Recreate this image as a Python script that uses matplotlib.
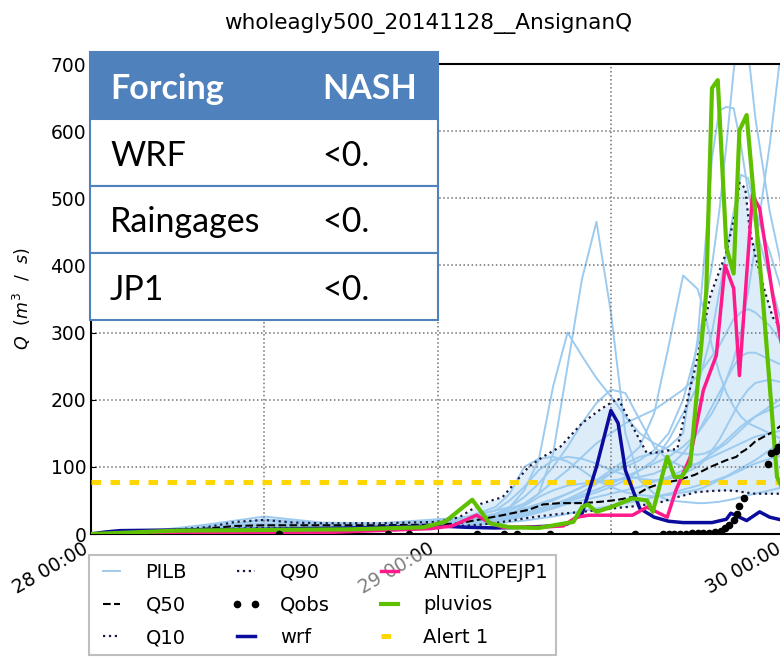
import datetime as dt

import matplotlib
matplotlib.use('Agg')
import matplotlib.pyplot as plt
import matplotlib.dates as mdates
from matplotlib.patches import Rectangle

# run start, everything below is in hours after it
t0 = dt.datetime(2014, 11, 28, 0, 0)

# ensemble members (PILB), common time axis
pilb_t = [0, 4, 8, 12, 16, 20, 24, 26, 28, 29, 30, 31, 32, 33, 34, 35, 36, 37, 38, 39,
          40, 41, 42, 42.5, 43, 43.5, 44, 44.5, 45, 45.5, 46, 47, 48, 49]
pilb = [
    [0, 3, 9, 13, 12, 13, 15, 22, 30, 38, 45, 60, 120, 250, 380, 465, 330, 150, 80, 60,
     50, 48, 46, 46, 47, 48, 50, 52, 55, 58, 60, 65, 70, 72],
    [0, 3, 10, 15, 14, 14, 17, 25, 35, 40, 65, 110, 220, 300, 265, 232, 205, 175, 150, 135,
     125, 120, 118, 120, 125, 130, 140, 150, 160, 168, 175, 185, 195, 205],
    [0, 4, 12, 20, 15, 15, 18, 22, 28, 32, 38, 45, 52, 60, 70, 80, 90, 100, 110, 125,
     150, 200, 280, 340, 400, 480, 580, 690, 770, 720, 620, 480, 380, 320],
    [0, 3, 9, 12, 12, 13, 15, 18, 22, 26, 30, 36, 44, 52, 62, 75, 90, 105, 115, 120,
     130, 150, 290, 420, 560, 631, 636, 634, 580, 510, 460, 380, 300, 250],
    [0, 3, 9, 13, 12, 13, 15, 17, 20, 24, 28, 34, 40, 48, 55, 62, 70, 80, 95, 110,
     140, 180, 220, 260, 300, 360, 420, 480, 535, 530, 480, 420, 350, 300],
    [0, 3, 9, 13, 13, 14, 16, 20, 25, 30, 36, 42, 50, 60, 70, 80, 95, 110, 130, 180,
     280, 385, 365, 330, 280, 240, 210, 190, 175, 165, 160, 150, 140, 130],
    [0, 4, 11, 16, 14, 15, 17, 20, 24, 28, 32, 38, 44, 50, 58, 66, 75, 85, 95, 105,
     115, 130, 150, 165, 180, 200, 230, 260, 300, 360, 430, 580, 760, 800],
    [0, 3, 10, 14, 13, 14, 16, 20, 30, 40, 55, 75, 100, 130, 165, 195, 215, 210, 170, 130,
     110, 100, 105, 110, 115, 120, 125, 130, 135, 140, 145, 150, 155, 160],
    [0, 2, 8, 11, 11, 12, 13, 15, 18, 22, 26, 32, 38, 45, 50, 55, 60, 65, 70, 78,
     85, 95, 105, 112, 120, 128, 135, 145, 155, 165, 175, 190, 205, 215],
    [0, 3, 9, 12, 12, 12, 14, 16, 22, 30, 42, 55, 65, 72, 75, 78, 80, 82, 85, 90,
     100, 120, 150, 170, 190, 210, 230, 250, 265, 270, 270, 260, 250, 240],
    [0, 2, 7, 10, 10, 11, 12, 13, 15, 18, 20, 23, 26, 30, 34, 38, 42, 46, 50, 55,
     60, 66, 72, 75, 78, 82, 86, 92, 98, 104, 110, 125, 140, 150],
    [0, 4, 14, 26, 17, 16, 22, 25, 35, 50, 70, 95, 110, 115, 112, 105, 95, 88, 82, 80,
     82, 90, 100, 110, 125, 140, 160, 180, 200, 215, 225, 230, 225, 215],
    [0, 3, 10, 22, 16, 15, 20, 22, 28, 35, 45, 60, 78, 95, 115, 135, 150, 165, 175, 185,
     200, 215, 235, 250, 265, 280, 300, 320, 330, 335, 330, 310, 280, 260],
    [0, 3, 10, 13, 13, 14, 18, 25, 40, 60, 100, 112, 115, 108, 95, 80, 70, 62, 58, 56,
     58, 62, 66, 70, 75, 80, 85, 90, 95, 100, 105, 112, 118, 122],
]

# ensemble quantiles
q_t = [0, 4, 8, 10, 12, 14, 16, 20, 24, 25.5, 27, 28.5, 30.3, 31.3, 32.5, 34, 35.3, 36.5,
       37.5, 38.5, 39.4, 40.6, 41.5, 41.8, 42.9, 44, 44.7, 44.9, 45.3, 45.6, 46, 46.6,
       47.2, 48, 49]
q90 = [0, 4, 10, 18, 21, 17, 16, 16, 18, 25, 45, 55, 100, 115, 130, 165, 186, 202,
       160, 120, 122, 127, 219, 244, 356, 420, 487, 523, 515, 455, 415, 366, 323, 300, 280]
q50 = [0, 3, 8, 12, 13, 13, 13, 13, 14, 16, 22, 28, 36, 44, 46, 46, 48, 51,
       55, 68, 75, 80, 86, 88, 100, 110, 115, 120, 125, 130, 138, 145, 152, 165, 175]
q10 = [0, 2, 6, 8, 9, 9, 9, 10, 11, 12, 14, 18, 24, 27, 30, 33, 36, 39,
       41, 44, 47, 55, 60, 62, 64, 65, 64, 63, 62, 61, 60, 60, 60, 60, 60]

# deterministic runs
wrf_t = [0, 1, 2, 6, 12, 18, 22, 24, 26, 28, 30, 32, 33, 34, 35, 36, 36.5, 37, 38, 39,
         40, 41, 43, 44, 44.3, 45.4, 46.3, 47, 48, 49]
wrf_q = [0, 3, 5, 6, 7, 9, 11, 12, 10, 9, 10, 12, 15, 30, 100, 184, 165, 95, 38, 25,
         19, 17, 17, 22, 31, 20, 33, 25, 20, 18]

jp1_t = [0, 16, 23.5, 25, 26.7, 27.5, 28.5, 31, 32.7, 33.6, 34.5, 36, 37.5, 38.5, 39.9,
         40.5, 41.5, 42.4, 43.3, 43.9, 44.5, 44.9, 45.8, 46.3, 47.2, 48.5]
jp1_q = [0, 2, 8, 12, 28, 18, 10, 10, 12, 25, 28, 28, 28, 40, 25,
         65, 115, 214, 266, 400, 366, 236, 505, 485, 356, 200]

pluvios_t = [0, 6, 12, 18, 23, 24.5, 26.4, 27.6, 29, 31, 33.4, 34, 34.4, 35, 36, 37.5,
             38.5, 38.9, 39.9, 40.4, 40.9, 41.5, 42.6, 43, 43.4, 44, 44.5, 44.9, 45.4,
             46.5, 47.5, 48.5]
pluvios_q = [0, 5, 6, 7, 10, 18, 51, 16, 10, 9, 18, 40, 44, 33, 40, 53,
             50, 33, 115, 85, 85, 105, 360, 664, 676, 426, 388, 601, 624,
             356, 85, 40]

# observed discharge
qobs_t = [13, 20.6, 22, 26.7, 28.6, 29.5, 31.8, 37.7, 39.6, 40.0, 40.4, 40.8, 41.2, 41.6,
          42.0, 42.4, 42.8, 43.2, 43.6, 43.9, 44.2, 44.5, 44.7, 44.9, 45.2, 46.9, 47.1,
          47.4, 47.6, 47.9]
qobs_q = [0, 0, 0, 0, 0, 0, 0, 0, 0, 0, 0, 0, 0, 1,
          1, 1, 2, 3, 5, 9, 14, 21, 30, 42, 54, 105, 120,
          123, 130, 138]

alert1 = 77

table_header = ['Forcing', 'NASH']
forcing_names = ['WRF', 'Raingages', 'JP1']
nash_values = ['<0.', '<0.', '<0.']


def to_dates(hours):
    return [t0 + dt.timedelta(hours=h) for h in hours]


W, H = 780, 657
fig = plt.figure(figsize=(W / 100, H / 100), dpi=100)


def fx(px):
    return px / W


def fy(py):
    return 1 - py / H


t_end = 50
ax = fig.add_axes([fx(91), fy(534), t_end * 173.3 / 12 / W, (534 - 64) / H])

pilb_col = '#9dcbef'
pd_t = to_dates(pilb_t)
for i, member in enumerate(pilb):
    ax.plot(pd_t, member, color=pilb_col, lw=1.4, zorder=1.5,
            label='PILB' if i == 0 else None)

qd_t = to_dates(q_t)
ax.fill_between(qd_t, q10, q90, color=pilb_col, alpha=0.35, lw=0, zorder=1)
ax.plot(qd_t, q50, color='k', ls='--', lw=1.5, zorder=2.2, label='Q50')
ax.plot(qd_t, q10, color='#1a1a40', ls=':', lw=1.6, zorder=2.2, label='Q10')
ax.plot(qd_t, q90, color='#1a1a40', ls=':', lw=1.6, zorder=2.2, label='Q90')
ax.plot(to_dates(qobs_t), qobs_q, 'o', color='k', ms=4.5, zorder=4, label='Qobs')
ax.plot(to_dates(wrf_t), wrf_q, color='#0b0b9c', lw=2.5, zorder=3, label='wrf')
ax.plot(to_dates(jp1_t), jp1_q, color='#ff1a8c', lw=2.5, zorder=3, label='ANTILOPEJP1')
ax.plot(to_dates(pluvios_t), pluvios_q, color='#5fc000', lw=3, zorder=3.1, label='pluvios')
ax.axhline(alert1, color='#ffd700', lw=3.6, dashes=(1.9, 1.9), zorder=2.6, label='Alert 1')

ax.set_xlim(t0, t0 + dt.timedelta(hours=t_end))
ax.set_ylim(0, 700)
ax.set_yticks(range(0, 701, 100))
ax.xaxis.set_major_locator(mdates.HourLocator(byhour=[0]))
ax.xaxis.set_minor_locator(mdates.HourLocator(byhour=[12]))
ax.xaxis.set_major_formatter(mdates.DateFormatter('%d %H:%M'))
ax.grid(True, which='both', color='0.45', ls=':', lw=1.1)
ax.tick_params(axis='both', which='both', direction='in', labelsize=13.5)
ax.tick_params(axis='x', labelrotation=30)
plt.setp(ax.get_xticklabels(), ha='right', rotation_mode='default')
for s in ['left', 'bottom', 'top']:
    ax.spines[s].set_linewidth(1.5)

ax.set_ylabel(r'$Q\ \ (m^3\ \ /\ \ s)$', fontsize=12.5)
ax.yaxis.set_label_coords(fx(33), 0.5 * (fy(64) + fy(534)), transform=fig.transFigure)

fig.text(fx(428), fy(23), 'wholeagly500_20141128__AnsignanQ', ha='center', va='center',
         fontsize=15.5)

handles, labels = ax.get_legend_handles_labels()
order = ['PILB', 'Q50', 'Q10', 'Q90', 'Qobs', 'wrf', 'ANTILOPEJP1', 'pluvios', 'Alert 1']
hl = dict(zip(labels, handles))
leg = ax.legend([hl[k] for k in order], order, ncol=3, loc='upper left',
                bbox_to_anchor=(fx(89), fy(555)), bbox_transform=fig.transFigure,
                borderaxespad=0, fontsize=14, numpoints=2, handlelength=1.5,
                handletextpad=1.0, columnspacing=2.3, labelspacing=0.7,
                borderpad=0.4, fancybox=False, framealpha=0.5, edgecolor='0.5')
leg.get_frame().set_linewidth(1.5)

# NASH summary table drawn on top of the axes
blue = '#4f81bd'
tl, tr = 90, 438
row_tops = [52, 119, 186, 253, 320]
fig.add_artist(Rectangle((fx(tl), fy(row_tops[1])), fx(tr) - fx(tl),
                         fy(row_tops[0]) - fy(row_tops[1]), transform=fig.transFigure,
                         facecolor=blue, edgecolor=blue, lw=1.5, zorder=5))
fig.text(fx(110), fy(89), table_header[0], color='white', fontweight='bold',
         fontsize=24.5, family='Lato', va='center', zorder=6)
fig.text(fx(322), fy(89), table_header[1], color='white', fontweight='bold',
         fontsize=24.5, family='Lato', va='center', zorder=6)
for i, (name, val) in enumerate(zip(forcing_names, nash_values)):
    top, bot = row_tops[i + 1], row_tops[i + 2]
    fig.add_artist(Rectangle((fx(tl), fy(bot)), fx(tr) - fx(tl), fy(top) - fy(bot),
                             transform=fig.transFigure, facecolor='white',
                             edgecolor=blue, lw=1.5, zorder=5))
    yc = fy((top + bot) / 2 + 3)
    fig.text(fx(110), yc, name, fontsize=24.5, family='Lato', va='center', zorder=6)
    fig.text(fx(322), yc, val, fontsize=24.5, family='Lato', va='center', zorder=6)

fig.savefig('out.png', dpi=100)
